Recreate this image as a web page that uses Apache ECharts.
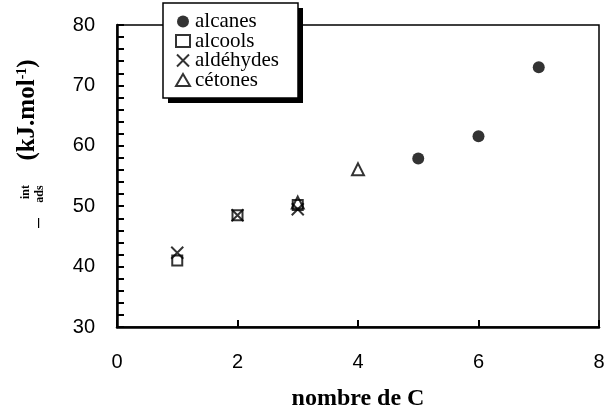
<!DOCTYPE html>
<html>
<head>
<meta charset="utf-8">
<script src="https://cdn.jsdelivr.net/npm/echarts@6/dist/echarts.min.js"></script>
<style>html,body{margin:0;padding:0;background:#fff}#c{width:607px;height:410px}</style>
</head>
<body>
<div id="c"></div>
<script>
var seriesNames = ['alcanes', 'alcools', 'aldéhydes', 'cétones'];
var alcanes = [[5, 57.9], [6, 61.6], [7, 73.0]];
var alcools = [[1, 41.0], [2, 48.5], [3, 50.2]];
var aldehydes = [[1, 42.3], [2, 48.5], [3, 49.5]];
var cetones = [[3, 50.6], [4, 56.1]];
var xTicks = {min: 0, max: 8, interval: 2};
var yTicks = {min: 30, max: 80, interval: 10};

var chart = echarts.init(document.getElementById('c'), null, {renderer: 'canvas'});
var hollow = 'rgba(0,0,0,0)';
var crossPath = 'path://M0,0L10,10M10,0L0,10';
var serif = 'Liberation Serif, Times New Roman, serif';
var sans = 'Liberation Sans, Arial, sans-serif';
var option = {
  animation: false,
  backgroundColor: '#fff',
  grid: {left: 117, right: 8, top: 25, bottom: 83, containLabel: false, outerBoundsMode: 'none',
    show: true, borderColor: '#000', borderWidth: 1.5, backgroundColor: 'transparent'},
  xAxis: {
    type: 'value', min: xTicks.min, max: xTicks.max, interval: xTicks.interval,
    axisLine: {show: true, lineStyle: {color: '#000', width: 2.5}},
    axisTick: {show: true, inside: true, length: 7, lineStyle: {color: '#000', width: 2}},
    splitLine: {show: false},
    axisLabel: {color: '#000', fontSize: 20, fontFamily: sans, margin: 25},
    name: 'nombre de C', nameLocation: 'middle', nameGap: 60,
    nameTextStyle: {color: '#000', fontSize: 24, fontWeight: 'bold', fontFamily: serif}
  },
  yAxis: {
    type: 'value', min: yTicks.min, max: yTicks.max, interval: yTicks.interval,
    axisLine: {show: true, lineStyle: {color: '#000', width: 2.5}},
    axisTick: {show: true, inside: true, length: 7, lineStyle: {color: '#000', width: 2}},
    minorTick: {show: true, splitNumber: 5, length: 7, lineStyle: {color: '#000', width: 2}},
    splitLine: {show: false},
    axisLabel: {color: '#000', fontSize: 20, fontFamily: sans, margin: 22}
  },
  legend: {
    orient: 'vertical', left: 163, top: 3, z: 10,
    data: seriesNames,
    backgroundColor: 'transparent', borderWidth: 0,
    padding: [8, 10, 8, 12],
    itemWidth: 14, itemHeight: 12, itemGap: -1.5,
    textStyle: {color: '#000', fontSize: 21, fontFamily: serif}
  },
  graphic: [
    {type: 'rect', z: 5, shape: {x: 168, y: 8, width: 135, height: 95}, style: {fill: '#000'}},
    {type: 'rect', z: 6, shape: {x: 163, y: 3, width: 135, height: 95}, style: {fill: '#fff', stroke: '#000', lineWidth: 1.5}},
    {type: 'text', x: 28, y: 110, rotation: Math.PI / 2,
      style: {text: '{b|(kJ.mol}{s|-1}{b|)}', align: 'center', verticalAlign: 'middle',
        rich: {
          b: {fontSize: 25, fontWeight: 'bold', fontFamily: serif, fill: '#000', verticalAlign: 'bottom'},
          s: {fontSize: 14, fontWeight: 'bold', fontFamily: serif, fill: '#000', verticalAlign: 'top'}
        }}},
    {type: 'text', x: 26, y: 192, rotation: Math.PI / 2,
      style: {text: 'int', align: 'center', verticalAlign: 'middle', font: 'bold 12px "Liberation Serif", serif', fill: '#000'}},
    {type: 'text', x: 40, y: 194, rotation: Math.PI / 2,
      style: {text: 'ads', align: 'center', verticalAlign: 'middle', font: 'bold 12px "Liberation Serif", serif', fill: '#000'}},
    {type: 'text', x: 38, y: 223, rotation: Math.PI / 2,
      style: {text: '–', align: 'center', verticalAlign: 'middle', font: '18px "Liberation Sans", sans-serif', fill: '#000'}}
  ],
  series: [
    {name: seriesNames[0], type: 'scatter', data: alcanes, symbol: 'circle', symbolSize: 12,
      itemStyle: {color: '#000'}},
    {name: seriesNames[1], type: 'scatter', data: alcools, symbol: 'rect', symbolSize: 10,
      itemStyle: {color: hollow, borderColor: '#000', borderWidth: 2}},
    {name: seriesNames[2], type: 'scatter', data: aldehydes, symbol: crossPath, symbolSize: 12,
      itemStyle: {color: hollow, borderColor: '#000', borderWidth: 2}},
    {name: seriesNames[3], type: 'scatter', data: cetones, symbol: 'triangle', symbolSize: 12,
      itemStyle: {color: hollow, borderColor: '#000', borderWidth: 2}}
  ]
};
chart.setOption(option);
</script>
</body>
</html>
